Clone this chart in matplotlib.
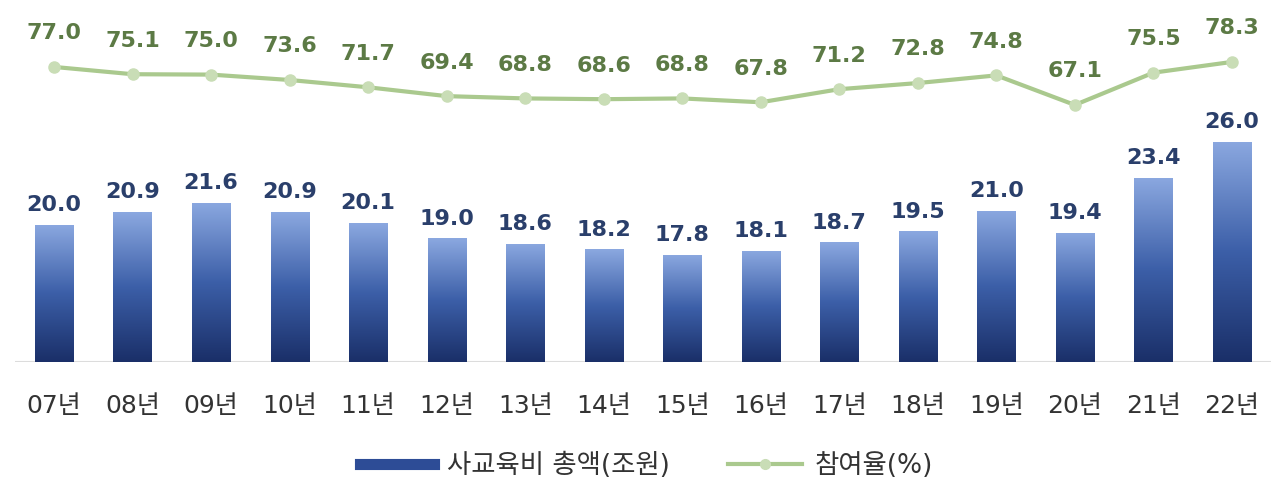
import matplotlib.pyplot as plt
import numpy as np
from matplotlib.colors import LinearSegmentedColormap
from matplotlib.lines import Line2D

plt.rcParams['font.family'] = ['DejaVu Sans', 'Noto Sans CJK KR']

years = ['07년', '08년', '09년', '10년', '11년', '12년', '13년', '14년',
         '15년', '16년', '17년', '18년', '19년', '20년', '21년', '22년']
total = [20.0, 20.9, 21.6, 20.9, 20.1, 19.0, 18.6, 18.2,
         17.8, 18.1, 18.7, 19.5, 21.0, 19.4, 23.4, 26.0]
rate = [77.0, 75.1, 75.0, 73.6, 71.7, 69.4, 68.8, 68.6,
        68.8, 67.8, 71.2, 72.8, 74.8, 67.1, 75.5, 78.3]

bar_base = 10
fig = plt.figure(figsize=(12.8, 5.01), dpi=100)
ax = fig.add_axes([0.0115, 0.2774, 0.9816, 0.6826])
ax2 = ax.twinx()

x = np.arange(len(years))
bars = ax.bar(x, np.array(total) - bar_base, bottom=bar_base, width=0.485,
              color='none', edgecolor='none')
cmap = LinearSegmentedColormap.from_list('g', ['#1a2f68', '#3c5fa8', '#8ba8e0'])
grad = np.linspace(0, 1, 256).reshape(-1, 1)
for b, v in zip(bars, total):
    x0 = b.get_x()
    im = ax.imshow(grad, extent=[x0, x0 + b.get_width(), bar_base, v],
                   origin='lower', cmap=cmap, aspect='auto', zorder=2)
    im.set_clip_path(b)
    ax.annotate(f'{v:.1f}', (b.get_x() + b.get_width() / 2, v),
                xytext=(0, 7), textcoords='offset points', ha='center',
                va='bottom', fontsize=16, fontweight='bold', color='#2a3f6b')

ax.set_xlim(-0.5, len(years) - 0.5)
ax.set_ylim(bar_base, 34.87)
ax.axhline(bar_base, color='#dcdcdc', lw=1.5, zorder=1)

ax2.plot(x, rate, color='#aac98e', lw=3, marker='o', markersize=8,
         markerfacecolor='#c9ddb6', markeredgecolor='#c9ddb6', zorder=3)
for xi, v in zip(x, rate):
    ax2.annotate(f'{v:.1f}', (xi, v), xytext=(0, 17), textcoords='offset points',
                 ha='center', va='bottom', fontsize=16, fontweight='bold',
                 color='#5c7a45')
ax2.set_ylim(0.2, 89.2)

for a in (ax, ax2):
    for s in a.spines.values():
        s.set_visible(False)
    a.set_yticks([])
ax.set_xticks(x)
ax.set_xticklabels(years, fontsize=18, color='#333333')
ax.tick_params(axis='x', length=0, pad=23)

handles = [Line2D([0], [0], color='#2d4c96', lw=8),
           Line2D([0], [0], color='#aac98e', lw=3, marker='o', markersize=7,
                  markerfacecolor='#c9ddb6', markeredgecolor='#c9ddb6')]
fig.legend(handles, ['사교육비 총액(조원)', '참여율(%)'], loc='center',
           bbox_to_anchor=(0.505, 0.07), ncol=2, frameon=False, fontsize=19,
           handlelength=2.8, columnspacing=2.2, handletextpad=0.5,
           labelcolor='#333333')

fig.savefig('out.png', dpi=100)
